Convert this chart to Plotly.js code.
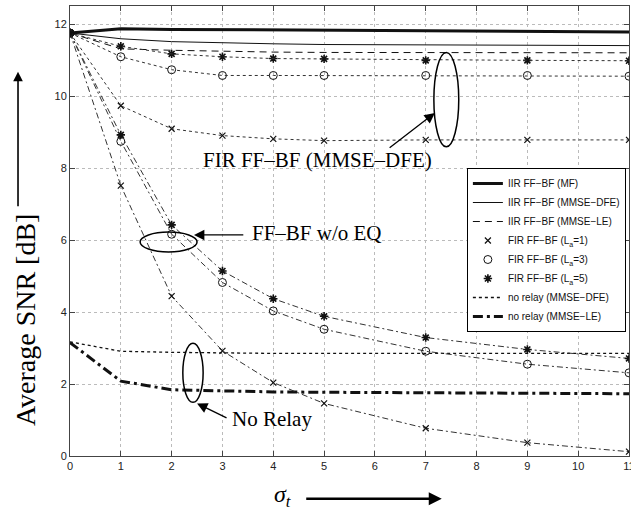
<!DOCTYPE html>
<html>
<head>
<meta charset="utf-8">
<script src="https://cdn.plot.ly/plotly-3.0.1.min.js"></script>
<style>
html,body{margin:0;padding:0;background:#fff;}
#chart{width:631px;height:511px;}
</style>
</head>
<body>
<div id="chart"></div>
<script>
// sigma_t sample points
const sigmaT = [0, 1, 2, 3, 4, 5, 7, 9, 11];
const xTicks = [0, 1, 2, 3, 4, 5, 6, 7, 8, 9, 10, 11];
const yTicks = [0, 2, 4, 6, 8, 10, 12];

// IIR FF-BF
const iirMF     = [11.75, 11.87, 11.85, 11.84, 11.83, 11.82, 11.80, 11.79, 11.78];
const iirDFE    = [11.75, 11.59, 11.51, 11.47, 11.45, 11.43, 11.42, 11.41, 11.40];
const iirLE     = [11.75, 11.31, 11.27, 11.24, 11.22, 11.21, 11.20, 11.20, 11.20];

// FIR FF-BF (MMSE-DFE)
const firDFE_La1 = [11.75, 9.73, 9.09, 8.90, 8.81, 8.76, 8.78, 8.78, 8.78];
const firDFE_La3 = [11.75, 11.09, 10.73, 10.57, 10.57, 10.57, 10.57, 10.57, 10.55];
const firDFE_La5 = [11.75, 11.38, 11.17, 11.09, 11.04, 11.03, 10.99, 10.99, 10.98];

// FF-BF w/o EQ
const noEQ_La1 = [11.75, 7.51, 4.44, 2.92, 2.04, 1.46, 0.77, 0.37, 0.12];
const noEQ_La3 = [11.75, 8.74, 6.16, 4.82, 4.03, 3.52, 2.91, 2.55, 2.31];
const noEQ_La5 = [11.75, 8.92, 6.42, 5.14, 4.37, 3.88, 3.29, 2.96, 2.71];

// No relay
const noRelayDFE = [3.17, 2.91, 2.88, 2.86, 2.85, 2.85, 2.85, 2.85, 2.85];
const noRelayLE  = [3.15, 2.08, 1.84, 1.80, 1.78, 1.77, 1.75, 1.74, 1.73];

const legendNames = [
  'IIR FF−BF (MF)',
  'IIR FF−BF (MMSE−DFE)',
  'IIR FF−BF (MMSE−LE)',
  'FIR FF−BF (L<sub>a</sub>=1)',
  'FIR FF−BF (L<sub>a</sub>=3)',
  'FIR FF−BF (L<sub>a</sub>=5)',
  'no relay (MMSE−DFE)',
  'no relay (MMSE−LE)'
];

const K = '#111';
const mX = {symbol: 'x-thin-open', size: 6, color: K, line: {color: K, width: 1.2}};
const mO = {symbol: 'circle-open', size: 8, color: K, line: {color: K, width: 1}};
const mS = {symbol: 'asterisk-open', size: 7, color: K, line: {color: K, width: 1.6}};

const traces = [
  {x: sigmaT, y: iirMF, mode: 'lines', name: legendNames[0], line: {color: K, width: 3}},
  {x: sigmaT, y: iirDFE, mode: 'lines', name: legendNames[1], line: {color: K, width: 1}},
  {x: sigmaT, y: iirLE, mode: 'lines', name: legendNames[2], line: {color: K, width: 1, dash: '7px,5px'}},
  // FIR markers (legend)
  {x: sigmaT, y: firDFE_La1, mode: 'markers', name: legendNames[3], marker: mX},
  {x: sigmaT, y: firDFE_La3, mode: 'markers', name: legendNames[4], marker: mO},
  {x: sigmaT, y: firDFE_La5, mode: 'markers', name: legendNames[5], marker: mS},
  {x: sigmaT, y: noRelayDFE, mode: 'lines', name: legendNames[6], line: {color: K, width: 1.3, dash: 'dot'}},
  {x: sigmaT, y: noRelayLE, mode: 'lines', name: legendNames[7], line: {color: K, width: 3, dash: '10px,4px,3px,4px'}},
  // FIR DFE dotted connecting lines
  {x: sigmaT, y: firDFE_La1, mode: 'lines', showlegend: false, line: {color: '#333', width: 1, dash: 'dot'}},
  {x: sigmaT, y: firDFE_La3, mode: 'lines', showlegend: false, line: {color: '#333', width: 1, dash: 'dot'}},
  {x: sigmaT, y: firDFE_La5, mode: 'lines', showlegend: false, line: {color: '#333', width: 1, dash: 'dot'}},
  // w/o EQ dash-dot with markers
  {x: sigmaT, y: noEQ_La1, mode: 'lines+markers', showlegend: false, line: {color: '#333', width: 1, dash: '6px,3px,2px,3px'}, marker: mX},
  {x: sigmaT, y: noEQ_La3, mode: 'lines+markers', showlegend: false, line: {color: '#333', width: 1, dash: '6px,3px,2px,3px'}, marker: mO},
  {x: sigmaT, y: noEQ_La5, mode: 'lines+markers', showlegend: false, line: {color: '#333', width: 1, dash: '6px,3px,2px,3px'}, marker: mS}
];

const serif = 'Liberation Serif, Times New Roman, serif';
const sans = 'Liberation Sans, Arial, sans-serif';

const layout = {
  width: 631, height: 511,
  margin: {l: 70, r: 2, t: 6, b: 55},
  paper_bgcolor: '#fff', plot_bgcolor: '#fff',
  showlegend: true,
  legend: {
    x: 0.71, y: 0.64, xanchor: 'left', yanchor: 'top',
    bgcolor: '#fff', bordercolor: '#000', borderwidth: 1,
    font: {family: sans, size: 10, color: '#111'},
    tracegroupgap: 0
  },
  xaxis: {
    range: [0, 11], tickvals: xTicks, ticktext: xTicks.map(String),
    ticks: 'inside', ticklen: 5, tickcolor: '#444',
    showline: true, linecolor: '#444', linewidth: 1, mirror: 'ticks',
    showgrid: true, gridcolor: '#bbb', griddash: 'dot', gridwidth: 1,
    zeroline: false, automargin: false, ticklabeloverflow: 'allow',
    tickfont: {family: sans, size: 11, color: '#222'}
  },
  yaxis: {
    range: [0, 12.5], tickvals: yTicks, ticktext: yTicks.map(String),
    ticks: 'inside', ticklen: 5, tickcolor: '#444',
    showline: true, linecolor: '#444', linewidth: 1, mirror: 'ticks',
    showgrid: true, gridcolor: '#bbb', griddash: 'dot', gridwidth: 1,
    zeroline: false, automargin: false,
    tickfont: {family: sans, size: 11, color: '#222'}
  },
  shapes: [
    {type: 'circle', xref: 'x', yref: 'y', x0: 7.16, x1: 7.65, y0: 8.59, y1: 11.21, line: {color: '#000', width: 1.5}},
    {type: 'circle', xref: 'x', yref: 'y', x0: 1.38, x1: 2.50, y0: 5.67, y1: 6.22, line: {color: '#000', width: 1.5}},
    {type: 'circle', xref: 'x', yref: 'y', x0: 2.22, x1: 2.62, y0: 1.49, y1: 3.13, line: {color: '#000', width: 1.5}}
  ],
  annotations: [
    {text: 'FIR FF–BF (MMSE–DFE)', xref: 'x', yref: 'y', x: 4.87, y: 8.23, xanchor: 'center', yanchor: 'middle', showarrow: false,
     font: {family: serif, size: 21, color: '#000'}},
    {text: '', xref: 'x', yref: 'y', axref: 'x', ayref: 'y', x: 7.18, y: 9.53, ax: 6.26, ay: 8.53,
     showarrow: true, arrowhead: 2, arrowsize: 1.6, arrowwidth: 1.3, arrowcolor: '#000'},
    {text: 'FF–BF w/o EQ', xref: 'x', yref: 'y', x: 3.54, y: 6.19, xanchor: 'left', yanchor: 'middle', showarrow: false,
     font: {family: serif, size: 21, color: '#000'}},
    {text: '', xref: 'x', yref: 'y', axref: 'x', ayref: 'y', x: 2.44, y: 6.14, ax: 3.44, ay: 6.14,
     showarrow: true, arrowhead: 2, arrowsize: 1.6, arrowwidth: 1.3, arrowcolor: '#000'},
    {text: 'No Relay', xref: 'x', yref: 'y', x: 3.15, y: 1.04, xanchor: 'left', yanchor: 'middle', showarrow: false,
     font: {family: serif, size: 21, color: '#000'}},
    {text: '', xref: 'x', yref: 'y', axref: 'x', ayref: 'y', x: 2.50, y: 1.46, ax: 3.11, ay: 1.04,
     showarrow: true, arrowhead: 2, arrowsize: 1.6, arrowwidth: 1.3, arrowcolor: '#000'},
    // y axis title + arrow
    {text: 'Average SNR [dB]', xref: 'paper', yref: 'paper', x: -0.0805, y: 0.302, textangle: -90,
     xanchor: 'center', yanchor: 'middle',
     showarrow: false, font: {family: serif, size: 28, color: '#000'}},
    {text: '', xref: 'paper', yref: 'paper', x: -0.093, y: 0.854, ax: 0, ay: 136,
     showarrow: true, arrowhead: 2, arrowsize: 1.2, arrowwidth: 1.6, arrowcolor: '#000'},
    // x axis title + arrow
    {text: '<i>σ<sub>t</sub></i>', xref: 'paper', yref: 'paper', x: 0.381, y: -0.088,
     xanchor: 'center', yanchor: 'middle',
     showarrow: false, font: {family: serif, size: 24, color: '#000'}},
    {text: '', xref: 'paper', yref: 'paper', x: 0.665, y: -0.095, ax: -137, ay: 0,
     showarrow: true, arrowhead: 2, arrowsize: 1.0, arrowwidth: 2.6, arrowcolor: '#000'}
  ]
};

Plotly.newPlot('chart', traces, layout, {staticPlot: true, displayModeBar: false});
</script>
</body>
</html>
